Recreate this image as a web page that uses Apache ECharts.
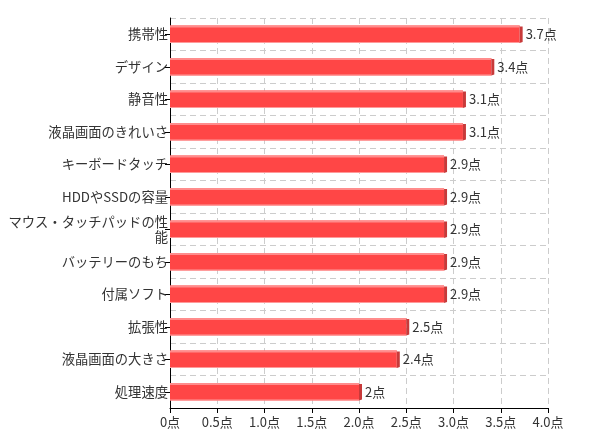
<!DOCTYPE html>
<html>
<head>
<meta charset="utf-8">
<script src="https://cdn.jsdelivr.net/npm/echarts@6/dist/echarts.min.js"></script>
<style>
  html, body { margin: 0; padding: 0; background: #fff; }
  #chart { width: 598px; height: 448px; }
</style>
</head>
<body>
<div id="chart"></div>
<script>
const categories = [
  '携帯性', 'デザイン', '静音性', '液晶画面のきれいさ', 'キーボードタッチ',
  'HDDやSSDの容量', 'マウス・タッチパッドの性能', 'バッテリーのもち',
  '付属ソフト', '拡張性', '液晶画面の大きさ', '処理速度'
];
const scores = [3.7, 3.4, 3.1, 3.1, 2.9, 2.9, 2.9, 2.9, 2.9, 2.5, 2.4, 2];

const font = '"Noto Sans CJK JP", "Noto Sans", sans-serif';
const chart = echarts.init(document.getElementById('chart'));

// draws the lighter top edge and darker end cap of each bar
const renderEdges = (params, api) => {
  const idx = api.value(0);
  const val = api.value(1);
  const start = api.coord([0, idx]);
  const end = api.coord([val, idx]);
  const h = api.size([0, 1])[1] * 0.54;
  const top = start[1] - h / 2;
  return {
    type: 'group',
    children: [
      {
        type: 'rect',
        shape: { x: start[0], y: top, width: end[0] - start[0], height: 2 },
        style: { fill: '#ff8c8c' }
      },
      {
        type: 'rect',
        shape: { x: start[0], y: top + h - 1, width: end[0] - start[0], height: 1 },
        style: { fill: '#ff9a9a' }
      },
      {
        type: 'polygon',
        shape: {
          points: [
            [end[0], top + 1],
            [end[0] + 3, top + 1],
            [end[0] + 3, top + h - 1],
            [end[0], top + h]
          ]
        },
        style: { fill: '#c83a3a' }
      }
    ]
  };
};

chart.setOption({
  animation: false,
  grid: { left: 170, right: 50, top: 18, bottom: 40, containLabel: false },
  xAxis: {
    type: 'value',
    min: 0,
    max: 4,
    interval: 0.5,
    axisLine: { show: true, lineStyle: { color: '#000' } },
    axisTick: { show: true, length: 5, lineStyle: { color: '#000' } },
    axisLabel: {
      color: '#333',
      fontFamily: font,
      fontSize: 13,
      margin: 8,
      formatter: v => (v === 0 ? '0' : v.toFixed(1)) + '点'
    },
    splitLine: { show: true, lineStyle: { color: '#ccc', type: [6, 4] } }
  },
  yAxis: {
    type: 'category',
    inverse: true,
    data: categories,
    axisLine: { show: true, lineStyle: { color: '#000' } },
    axisTick: { show: true, alignWithLabel: true, length: 5, lineStyle: { color: '#000' } },
    axisLabel: {
      color: '#333',
      fontFamily: font,
      fontSize: 13.3,
      margin: 2,
      width: 162,
      overflow: 'break',
      lineHeight: 15
    },
    splitLine: { show: true, lineStyle: { color: '#ccc', type: [6, 4] } }
  },
  series: [
    {
      type: 'bar',
      data: scores,
      barWidth: '54%',
      itemStyle: { color: '#ff4646' },
      label: {
        show: true,
        position: 'right',
        distance: 6,
        color: '#333',
        fontFamily: font,
        fontSize: 13,
        formatter: p => p.value + '点'
      },
      z: 2
    },
    {
      type: 'custom',
      renderItem: renderEdges,
      data: scores.map((s, i) => [i, s]),
      encode: { x: 1, y: 0 },
      z: 3,
      silent: true
    }
  ]
});
</script>
</body>
</html>
